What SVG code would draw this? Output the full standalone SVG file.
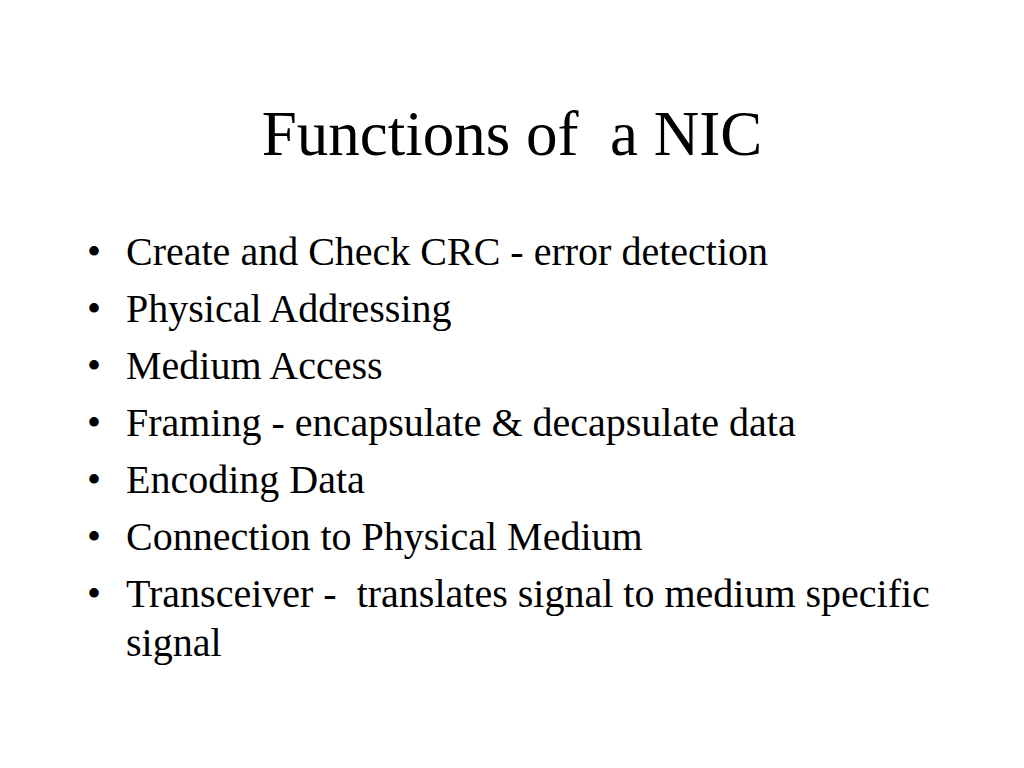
<svg xmlns="http://www.w3.org/2000/svg" width="1024" height="768" viewBox="0 0 1024 768">
<style>
.t{font-family:"Liberation Serif","Times New Roman",serif;fill:#000;white-space:pre}
.h{font-size:63px}
.b{font-size:40px}
</style>
<rect width="1024" height="768" fill="#fff"/>
<g id="title"><text class="t h" x="512" y="155" text-anchor="middle" xml:space="preserve">Functions of  a NIC</text></g>
<g id="bullets">
<text class="t b" x="87" y="265">•</text><text class="t b" x="126" y="265">Create and Check CRC - error detection</text>
<text class="t b" x="87" y="322">•</text><text class="t b" x="126" y="322">Physical Addressing</text>
<text class="t b" x="87" y="379">•</text><text class="t b" x="126" y="379">Medium Access</text>
<text class="t b" x="87" y="436">•</text><text class="t b" x="126" y="436">Framing - encapsulate &amp; decapsulate data</text>
<text class="t b" x="87" y="493">•</text><text class="t b" x="126" y="493">Encoding Data</text>
<text class="t b" x="87" y="550">•</text><text class="t b" x="126" y="550">Connection to Physical Medium</text>
<text class="t b" x="87" y="607">•</text><text class="t b" x="126" y="607" xml:space="preserve">Transceiver -  translates signal to medium specific</text>
<text class="t b" x="126" y="656">signal</text>
</g>
</svg>
